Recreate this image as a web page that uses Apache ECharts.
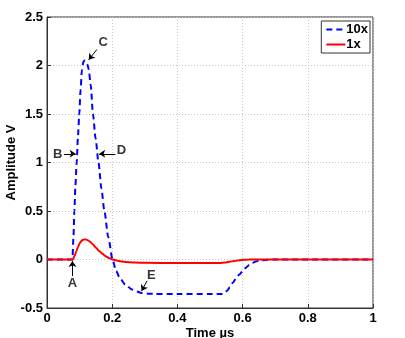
<!DOCTYPE html>
<html><head><meta charset="utf-8">
<script src="https://cdn.jsdelivr.net/npm/echarts@6/dist/echarts.min.js"></script>
<style>html,body{margin:0;padding:0;background:#fff}#c{width:405px;height:338px}</style>
</head><body><div id="c"></div>
<script>
var time10 = [0, 0.07, 0.078, 0.081, 0.084, 0.087, 0.091, 0.095, 0.099, 0.103, 0.107, 0.111, 0.114, 0.117, 0.120, 0.124, 0.128, 0.134, 0.141, 0.149, 0.158, 0.167, 0.176, 0.188, 0.201, 0.212, 0.225, 0.240, 0.261, 0.275, 0.290, 0.310, 0.330, 0.40, 0.50, 0.537, 0.545, 0.553, 0.561, 0.570, 0.580, 0.590, 0.600, 0.610, 0.620, 0.630, 0.640, 0.650, 0.670, 0.700, 0.750, 1.0];
var amp10  = [0, 0, 0, 0.22, 0.5, 0.75, 1.0, 1.27, 1.5, 1.75, 1.95, 2.03, 2.05, 2.05, 2.04, 2.01, 1.96, 1.8, 1.5, 1.25, 1.0, 0.73, 0.5, 0.23, 0, -0.12, -0.2, -0.26, -0.31, -0.33, -0.345, -0.352, -0.355, -0.355, -0.355, -0.355, -0.345, -0.32, -0.285, -0.24, -0.195, -0.155, -0.12, -0.085, -0.057, -0.036, -0.021, -0.012, -0.004, 0, 0, 0];
var time1 = [0, 0.07, 0.079, 0.085, 0.09, 0.095, 0.10, 0.105, 0.11, 0.115, 0.12, 0.125, 0.13, 0.14, 0.15, 0.16, 0.17, 0.18, 0.19, 0.20, 0.21, 0.22, 0.24, 0.27, 0.30, 0.40, 0.50, 0.53, 0.545, 0.56, 0.575, 0.59, 0.605, 0.62, 0.65, 1.0];
var amp1  = [0, 0, 0, 0.04, 0.085, 0.13, 0.165, 0.19, 0.203, 0.207, 0.205, 0.198, 0.188, 0.158, 0.122, 0.088, 0.058, 0.034, 0.016, 0.003, -0.008, -0.016, -0.025, -0.031, -0.034, -0.036, -0.036, -0.035, -0.031, -0.024, -0.015, -0.008, -0.003, -0.001, 0, 0];
var seriesNames = ['10x', '1x'];
var xTicks = ['0', '0.2', '0.4', '0.6', '0.8', '1'];
var yTicks = ['-0.5', '0', '0.5', '1', '1.5', '2', '2.5'];
var annotLabels = ['A', 'B', 'C', 'D', 'E'];
var annotText = [[0.078, -0.25], [0.033, 1.085], [0.172, 2.24], [0.228, 1.12], [0.32, -0.16]];
var arrowFrom = [[0.078, -0.17], [0.052, 1.09], [0.153, 2.165], [0.210, 1.09], [0.307, -0.22]];
var arrowTo   = [[0.078, -0.015], [0.088, 1.09], [0.128, 2.06], [0.160, 1.09], [0.290, -0.325]];

function zip(a, b) { return a.map(function (v, i) { return [v, b[i]]; }); }
var FONT = '"Liberation Sans", Arial, sans-serif';
var chart = echarts.init(document.getElementById('c'), null, {renderer: 'canvas'});
chart.setOption({
  animation: false,
  backgroundColor: '#fff',
  grid: {left: 47, right: 32, top: 17, bottom: 30, containLabel: false, outerBoundsMode: 'none',
    show: true, borderColor: '#333', borderWidth: 1, backgroundColor: 'transparent'},
  legend: {
    data: seriesNames, orient: 'vertical', right: 35, top: 21,
    backgroundColor: '#fff', borderColor: '#333', borderWidth: 1, borderRadius: 0,
    padding: [2, 2, 2, 4], itemGap: 2, itemWidth: 19, itemHeight: 10,
    itemStyle: {opacity: 0},
    textStyle: {fontFamily: FONT, fontWeight: 'bold', fontSize: 13, color: '#000', padding: [0, 0, 0, -4]}
  },
  xAxis: {
    type: 'value', min: 0, max: 1, interval: 0.2,
    name: 'Time \u00b5s', nameLocation: 'middle', nameGap: 19, nameMoveOverlap: false,
    nameTextStyle: {fontFamily: FONT, fontWeight: 'bold', fontSize: 13, color: '#000'},
    axisLine: {onZero: false, lineStyle: {color: '#333'}},
    axisTick: {inside: true, length: 4, lineStyle: {color: '#333'}},
    axisLabel: {fontFamily: FONT, fontWeight: 'bold', fontSize: 13, color: '#000', margin: 4,
      formatter: function (v) { return xTicks[Math.round(v / 0.2)]; }},
    splitLine: {show: true, lineStyle: {color: '#c8c8c8', type: [1, 2], width: 1}}
  },
  yAxis: {
    type: 'value', min: -0.5, max: 2.5, interval: 0.5,
    name: 'Amplitude V', nameLocation: 'middle', nameGap: 29, nameMoveOverlap: false,
    nameTextStyle: {fontFamily: FONT, fontWeight: 'bold', fontSize: 13, color: '#000'},
    axisLine: {show: true, lineStyle: {color: '#333'}},
    axisTick: {show: true, inside: true, length: 4, lineStyle: {color: '#333'}},
    axisLabel: {fontFamily: FONT, fontWeight: 'bold', fontSize: 13, color: '#000', margin: 4,
      formatter: function (v) { return yTicks[Math.round((v + 0.5) / 0.5)]; }},
    splitLine: {show: true, lineStyle: {color: '#c8c8c8', type: [1, 2], width: 1}}
  },
  series: [
    {name: seriesNames[0], type: 'line', data: zip(time10, amp10), showSymbol: false, symbol: 'none',
      smooth: 0.25, smoothMonotone: 'x', color: '#0000ff',
      lineStyle: {color: '#0000ff', width: 2, type: [6, 4]}, z: 3},
    {name: seriesNames[1], type: 'line', data: zip(time1, amp1), showSymbol: false, symbol: 'none',
      smooth: 0.25, smoothMonotone: 'x', color: '#ff0000',
      lineStyle: {color: '#ff0000', width: 2}, z: 4},
    {type: 'lines', coordinateSystem: 'cartesian2d', z: 5,
      symbol: ['none', 'arrow'], symbolSize: 6,
      lineStyle: {color: '#000', width: 1, opacity: 1},
      data: arrowFrom.map(function (f, i) { return {coords: [f, arrowTo[i]]}; })},
    {type: 'scatter', symbolSize: 1, z: 6, itemStyle: {color: 'rgba(0,0,0,0)'},
      label: {show: true, position: 'inside', fontFamily: FONT, fontWeight: 'bold', fontSize: 13, color: '#000',
        formatter: function (p) { return p.data.name; }},
      data: annotText.map(function (p, i) { return {name: annotLabels[i], value: p}; })}
  ]
});
</script></body></html>
